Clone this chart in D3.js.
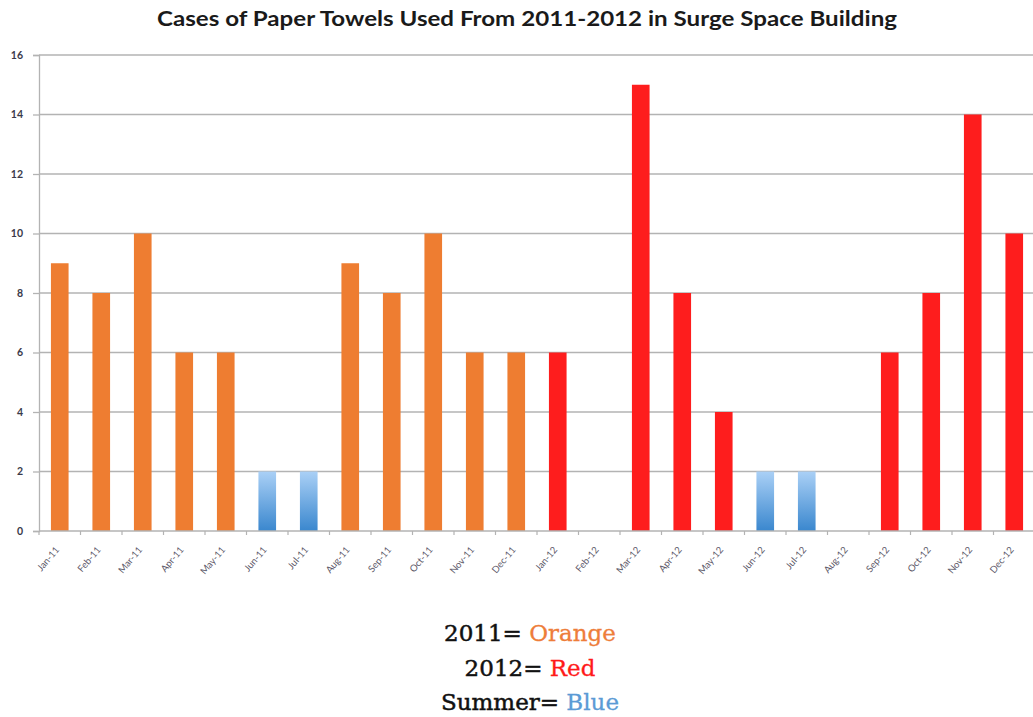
<!DOCTYPE html>
<html><head><meta charset="utf-8">
<script src="https://cdn.jsdelivr.net/npm/d3@7"></script>
<style>body{margin:0;background:#fff}svg{display:block}</style>
</head><body>
<svg id="c" width="1033" height="717"></svg>
<script>
const months = ["Jan-11","Feb-11","Mar-11","Apr-11","May-11","Jun-11","Jul-11","Aug-11","Sep-11","Oct-11","Nov-11","Dec-11",
"Jan-12","Feb-12","Mar-12","Apr-12","May-12","Jun-12","Jul-12","Aug-12","Sep-12","Oct-12","Nov-12","Dec-12"];
const cases = [9,8,10,6,6,2,2,9,8,10,6,6, 6,0,15,8,4,2,2,0,6,8,14,10];
const groups = ["2011","2011","2011","2011","2011","summer","summer","2011","2011","2011","2011","2011",
"2012","2012","2012","2012","2012","summer","summer","2012","2012","2012","2012","2012"];
const yTicks = [0,2,4,6,8,10,12,14,16];
const title = "Cases of Paper Towels Used From 2011-2012 in Surge Space Building";
const legendLines = [["2011= ","Orange","2011"],["2012= ","Red","2012"],["Summer= ","Blue","summer"]];

const svg = d3.select("#c");
const defs = svg.append("defs");
const grad = defs.append("linearGradient").attr("id","blueGrad").attr("x1",0).attr("y1",0).attr("x2",0).attr("y2",1);
grad.append("stop").attr("offset","0%").attr("stop-color","#aad0f6");
grad.append("stop").attr("offset","100%").attr("stop-color","#3a87ce");

const fill = {"2011":"#ee7d31","2012":"#fe1d1d","summer":"url(#blueGrad)"};
const textCol = {"2011":"#ee7d3a","2012":"#ff1a1a","summer":"#5b9bd5"};

const mLeft = 39, mRight = 1035, mTop = 55, mBottom = 531;
const x = d3.scaleBand().domain(months).range([mLeft,mRight]).paddingInner(0.575).paddingOuter(0.2875);
const y = d3.scaleLinear().domain([0,16]).range([mBottom,mTop]);

// gridlines
svg.append("g").selectAll("line").data(yTicks.filter(d=>d>0)).join("line")
  .attr("x1",mLeft).attr("x2",1033).attr("y1",d=>y(d)).attr("y2",d=>y(d))
  .attr("stroke","#b3b3b3").attr("stroke-width",1.3);

// y axis
const yAxis = svg.append("g").attr("transform",`translate(${mLeft},0)`)
  .call(d3.axisLeft(y).tickValues(yTicks).tickSize(6).tickPadding(10));
yAxis.select(".domain").attr("stroke","#b3b3b3").attr("stroke-width",1.3);
yAxis.selectAll(".tick line").attr("stroke","#b3b3b3").attr("stroke-width",1.3);
yAxis.selectAll("text").attr("font-family","Lato, sans-serif").attr("font-weight","bold")
  .attr("font-size",10.5).attr("fill","#3a3a4a");

// bars
svg.append("g").selectAll("rect").data(months).join("rect")
  .attr("x",d=>x(d)).attr("width",x.bandwidth())
  .attr("y",(d,i)=>y(cases[i])).attr("height",(d,i)=>y(0)-y(cases[i]))
  .attr("fill",(d,i)=>fill[groups[i]]);

// x axis
const xTickScale = d3.scaleLinear().domain([0,months.length]).range([mLeft,mRight]);
const xg = svg.append("g");
xg.append("line").attr("x1",mLeft).attr("x2",1033).attr("y1",mBottom).attr("y2",mBottom)
  .attr("stroke","#b3b3b3").attr("stroke-width",1.3);
xg.selectAll("line.tk").data(d3.range(months.length+1)).join("line").attr("class","tk")
  .attr("x1",d=>xTickScale(d)).attr("x2",d=>xTickScale(d)).attr("y1",mBottom).attr("y2",mBottom+4)
  .attr("stroke","#b3b3b3").attr("stroke-width",1.2);
xg.selectAll("text").data(months).join("text")
  .attr("transform",d=>`translate(${x(d)+x.bandwidth()/2},${mBottom+19}) rotate(-50)`)
  .attr("text-anchor","end").attr("font-family","Lato, sans-serif").attr("font-size",9.5)
  .attr("fill","#5c5868").text(d=>d);

// title
svg.append("text").attr("x",527).attr("y",26).attr("text-anchor","middle")
  .attr("font-family","Lato, sans-serif").attr("font-weight","bold").attr("font-size",21)
  .attr("fill","#1a1a1a").attr("textLength",740).attr("lengthAdjust","spacingAndGlyphs").text(title);

// legend
const lg = svg.append("g");
legendLines.forEach((l,i)=>{
  const t = lg.append("text").attr("x",530).attr("y",641+i*34.5).attr("text-anchor","middle")
    .attr("font-family","'DejaVu Serif', serif").attr("font-size",23);
  t.append("tspan").attr("fill","#111").attr("stroke","#111").attr("stroke-width",0.5).text(l[0]);
  t.append("tspan").attr("fill",textCol[l[2]]).attr("stroke",textCol[l[2]]).attr("stroke-width",0.3).text(l[1]);
});
</script>
</body></html>
